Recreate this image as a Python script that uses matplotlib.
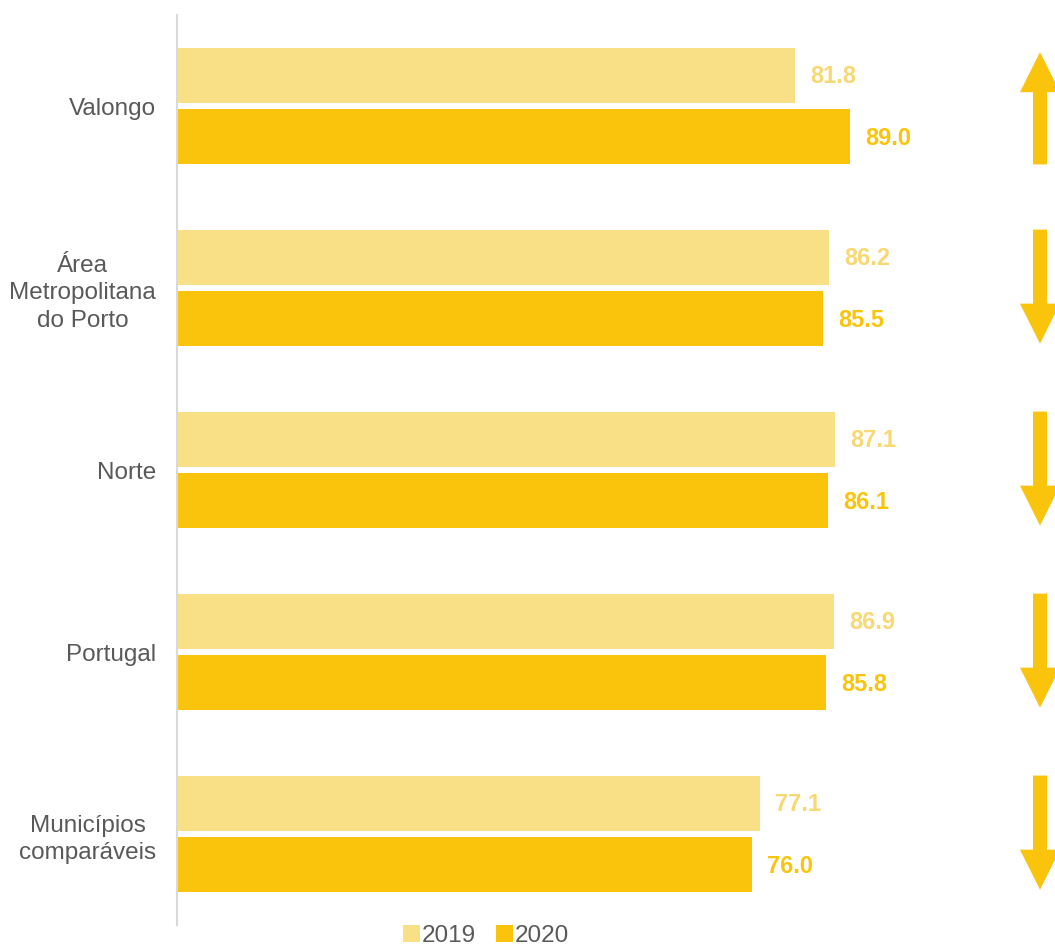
import numpy as np
import matplotlib.pyplot as plt
from matplotlib.patches import FancyArrow

plt.rcParams['font.family'] = ['Liberation Sans', 'DejaVu Sans']

categories = ["Valongo", "Área\nMetropolitana\ndo Porto", "Norte", "Portugal", "Municípios\ncomparáveis"]
values_2019 = [81.8, 86.2, 87.1, 86.9, 77.1]
values_2020 = [89.0, 85.5, 86.1, 85.8, 76.0]

color_2019 = "#F9E087"
color_2020 = "#FBC40C"
label_color = "#595959"

fig = plt.figure(figsize=(10.55, 9.46), dpi=100)
ax = fig.add_axes([177 / 1055, 1 - 925 / 946, 1 - 177 / 1055, 910 / 946])

y = np.arange(len(categories))
h = 0.302
off = 0.17

ax.barh(y - off, values_2019, height=h, color=color_2019, label="2019")
ax.barh(y + off, values_2020, height=h, color=color_2020, label="2020")

for i in range(len(categories)):
    ax.text(values_2019[i] + 2.0, y[i] - off + 0.01, f"{values_2019[i]:.1f}", va="center", ha="left",
            fontsize=17, fontweight="bold", color="#F8D873")
    ax.text(values_2020[i] + 2.0, y[i] + off + 0.01, f"{values_2020[i]:.1f}", va="center", ha="left",
            fontsize=17, fontweight="bold", color=color_2020)

# trend arrows on the right
xa = (1040 - 177) / 7.56
for i in range(len(categories)):
    top = y[i] - off - h / 2
    bottom = y[i] + off + h / 2 - 0.015
    length = bottom - top
    if values_2020[i] > values_2019[i]:
        arr = FancyArrow(xa, bottom + 0.015, 0, -length + 0.01, width=1.85, head_width=5.3, head_length=0.22,
                         length_includes_head=True, color=color_2020, lw=0)
    else:
        arr = FancyArrow(xa, top, 0, length, width=1.85, head_width=5.3, head_length=0.22,
                         length_includes_head=True, color=color_2020, lw=0)
    arr.set_clip_on(False)
    ax.add_patch(arr)

ax.set_xlim(0, (1055 - 177) / 7.56)
ax.set_ylim(len(categories) - 0.5, -0.5)
ax.set_yticks(y)
ax.set_yticklabels(categories, fontsize=17.5, color=label_color, multialignment="center",
                   linespacing=1.34)
ax.tick_params(axis="y", length=0, pad=15)
ax.set_xticks([])

for s in ["top", "right", "bottom"]:
    ax.spines[s].set_visible(False)
ax.spines["left"].set_color("#D9D9D9")
ax.spines["left"].set_linewidth(1.5)

fig.legend(loc="center", bbox_to_anchor=(486 / 1055, 1 - 936 / 946), ncol=2, frameon=False,
           fontsize=17.5, handlelength=0.7, handleheight=0.7, handletextpad=0.1, columnspacing=0.8,
           labelcolor=label_color)

plt.savefig("out.png", dpi=100)
